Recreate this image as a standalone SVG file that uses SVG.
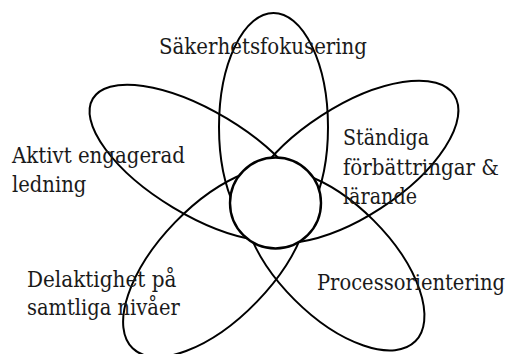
<svg xmlns="http://www.w3.org/2000/svg" width="510" height="354" viewBox="0 0 510 354">
<style>
.petal{fill:none;stroke:#000;stroke-width:2}
.hub{fill:#fff;stroke:#000;stroke-width:2.4}
.lbl{font-family:"DejaVu Serif",serif;font-size:23px;fill:#1a1a1a}
</style>
<rect width="510" height="354" fill="#fff"/>
<g id="connectors"></g>
<g id="petal-top">
<ellipse class="petal" cx="273.5" cy="127" rx="54.5" ry="114"/>
</g>
<g id="petal-upper-right">
<ellipse class="petal" cx="351" cy="162" rx="123" ry="55" transform="rotate(-33 351 162)"/>
</g>
<g id="petal-lower-right">
<ellipse class="petal" cx="334" cy="260" rx="115" ry="56" transform="rotate(45 334 260)"/>
</g>
<g id="petal-lower-left">
<ellipse class="petal" cx="216" cy="262" rx="120" ry="57" transform="rotate(-46 216 262)"/>
</g>
<g id="petal-upper-left">
<ellipse class="petal" cx="200" cy="163" rx="125" ry="52" transform="rotate(31 200 163)"/>
</g>
<g id="hub">
<circle class="hub" cx="275.5" cy="203" r="45.5"/>
</g>
<g id="labels">
<text class="lbl" transform="translate(159 54) scale(0.855 1)" textLength="243.3" lengthAdjust="spacingAndGlyphs">Säkerhetsfokusering</text>
<text class="lbl" transform="translate(343 145) scale(0.855 1)" textLength="100.6" lengthAdjust="spacingAndGlyphs">Ständiga</text>
<text class="lbl" transform="translate(343 175) scale(0.855 1)" textLength="182.5" lengthAdjust="spacingAndGlyphs">förbättringar &amp;</text>
<text class="lbl" transform="translate(343 204) scale(0.855 1)" textLength="86.5" lengthAdjust="spacingAndGlyphs">lärande</text>
<text class="lbl" transform="translate(317 290) scale(0.855 1)" textLength="219.9" lengthAdjust="spacingAndGlyphs">Processorientering</text>
<text class="lbl" transform="translate(27 287) scale(0.855 1)" textLength="174.7" lengthAdjust="spacingAndGlyphs">Delaktighet på</text>
<text class="lbl" transform="translate(27 315) scale(0.855 1)" textLength="178.6" lengthAdjust="spacingAndGlyphs">samtliga nivåer</text>
<text class="lbl" transform="translate(12 163) scale(0.855 1)" textLength="202.3" lengthAdjust="spacingAndGlyphs">Aktivt engagerad</text>
<text class="lbl" transform="translate(12 192) scale(0.855 1)" textLength="86.9" lengthAdjust="spacingAndGlyphs">ledning</text>
</g>
</svg>
